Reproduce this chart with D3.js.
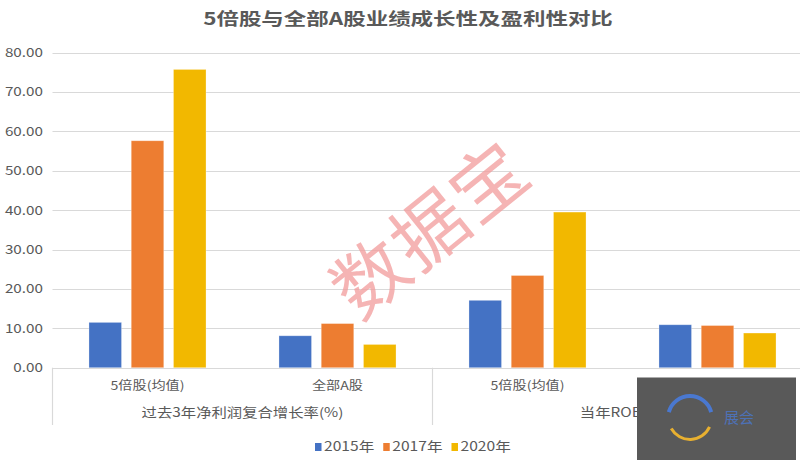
<!DOCTYPE html>
<html><head><meta charset="utf-8">
<script src="https://cdn.jsdelivr.net/npm/d3@7"></script>
<style>body{margin:0;background:#fff}svg{display:block}text{font-family:"Noto Sans CJK SC","Noto Sans",sans-serif}</style>
</head><body><svg id="c" width="800" height="460"></svg>
<script>
const title = "5倍股与全部A股业绩成长性及盈利性对比";
const groups = ["g1","g2","g3","g4"];
const groupLabels = ["5倍股(均值)","全部A股","5倍股(均值)","全部A股"];
const superLabels = ["过去3年净利润复合增长率(%)","当年ROE(%)"];
const series = ["2015年","2017年","2020年"];
const colors = ["#4472C4","#ED7D31","#F2B800"];
const v2015 = [11.5, 8.1, 17.1, 10.9];
const v2017 = [57.6, 11.2, 23.4, 10.7];
const v2020 = [75.7, 5.9, 39.5, 8.8];
const yTicks = [0,10,20,30,40,50,60,70,80];

const values = [v2015, v2017, v2020];
const svg = d3.select("#c");
const SX = 1.22; // horizontal stretch of the reference text

const y = d3.scaleLinear().domain([0,80]).range([367.7,52.5]);
const x0 = d3.scaleBand().domain(groups).range([52.5,812.5]).paddingInner(0.384).paddingOuter(0.192);
const x1 = d3.scaleBand().domain(series).range([0,x0.bandwidth()]).paddingInner(0.23);
const xg = d3.scaleBand().domain(groups).range([52.5,812.5]);

// gridlines
svg.append("g").selectAll("line").data(yTicks).join("line")
  .attr("x1",52.5).attr("x2",812).attr("y1",d=>Math.round(y(d))+0.5).attr("y2",d=>Math.round(y(d))+0.5)
  .attr("stroke","#d9d9d9").attr("stroke-width",1.2);

// y tick labels
svg.append("g").selectAll("text").data(yTicks).join("text")
  .attr("transform",d=>`translate(43,${y(d)}) scale(${SX},1)`)
  .attr("text-anchor","end").attr("dy","0.36em")
  .attr("font-size",12.5).attr("fill","#595959")
  .text(d=>d3.format(".2f")(d));

// watermark
svg.append("text").attr("transform","translate(431,230) rotate(-39)")
  .attr("text-anchor","middle").attr("dy","0.35em")
  .attr("font-size",74).attr("font-weight",400).attr("letter-spacing",2)
  .attr("fill","#f29b9b").attr("fill-opacity",0.75).text("数据宝");

// bars
const gg = svg.append("g").selectAll("g").data(groups).join("g")
  .attr("transform",d=>`translate(${x0(d)},0)`);
gg.selectAll("rect").data((d,i)=>series.map((s,j)=>({s,j,v:values[j][i]}))).join("rect")
  .attr("x",d=>x1(d.s)).attr("width",x1.bandwidth())
  .attr("y",d=>y(d.v)).attr("height",d=>y(0)-y(d.v))
  .attr("fill",d=>colors[d.j]).attr("stroke","#fff").attr("stroke-opacity",0.35).attr("stroke-width",0.8);

// category dividers
const divX = [52.5, 432.5, 812.5];
svg.append("g").selectAll("line").data(divX).join("line")
  .attr("x1",d=>d).attr("x2",d=>d).attr("y1",367.7).attr("y2",425)
  .attr("stroke","#d9d9d9").attr("stroke-width",1.2);

// group labels
svg.append("g").selectAll("text").data(groups).join("text")
  .attr("transform",(d,i)=>`translate(${xg(d)+xg.bandwidth()/2},386) scale(1.18,1)`)
  .attr("text-anchor","middle").attr("dy","0.35em")
  .attr("font-size",12).attr("fill","#595959")
  .text((d,i)=>groupLabels[i]);

// super labels
svg.append("g").selectAll("text").data(superLabels).join("text")
  .attr("transform",(d,i)=>`translate(${(xg(groups[i*2])+xg(groups[i*2+1])+xg.bandwidth())/2},412.5) scale(1.2,1)`)
  .attr("text-anchor","middle").attr("dy","0.35em")
  .attr("font-size",12.8).attr("fill","#595959")
  .text(d=>d);

// title
svg.append("text").attr("transform",`translate(408,19) scale(1.3,1)`)
  .attr("text-anchor","middle").attr("dy","0.35em")
  .attr("font-size",17.3).attr("font-weight",700).attr("fill","#595959").text(title);

// legend
const lg = svg.append("g");
let lx = 315;
series.forEach((s,i)=>{
  lg.append("rect").attr("x",lx).attr("y",443).attr("width",6.5).attr("height",8).attr("fill",colors[i]);
  const t = lg.append("text").attr("transform",`translate(${lx+9},447) scale(${SX},1)`)
    .attr("dy","0.35em").attr("font-size",12.8).attr("fill","#595959").text(s);
  const w = t.node().getComputedTextLength()*SX;
  lx += 9 + w + 9;
});

// logo overlay box (covers part of the reference)
const logo = svg.append("g");
logo.append("rect").attr("x",637).attr("y",377.5).attr("width",159).attr("height",83).attr("fill","#595959");
const arc = d3.arc();
logo.append("path").attr("transform","translate(690,418)")
  .attr("d",arc({innerRadius:20,outerRadius:24,startAngle:-1.3,endAngle:1.3})).attr("fill","#4a78d0");
logo.append("path").attr("transform","translate(690,418)")
  .attr("d",arc({innerRadius:20,outerRadius:23,startAngle:2.0,endAngle:4.2})).attr("fill","#e8b030");
logo.append("text").attr("x",724).attr("y",418).attr("dy","0.35em").attr("font-size",15)
  .attr("fill","#4a78d0").attr("fill-opacity",0.8).text("展会");
</script></body></html>
